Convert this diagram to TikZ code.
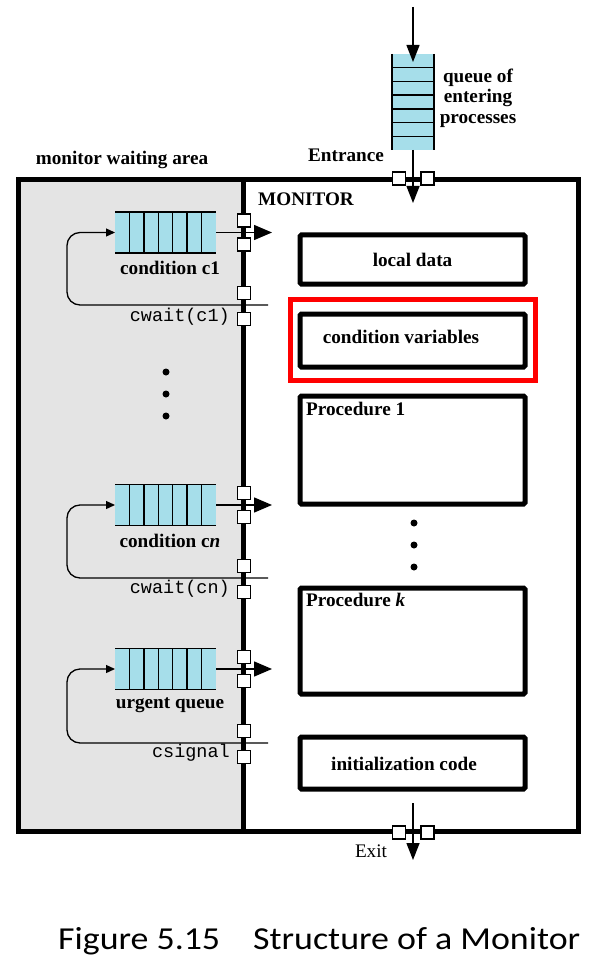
\documentclass[tikz,border=0pt]{standalone}
\usepackage{fontspec}
\usepackage{graphicx}
\setmainfont{Liberation Serif}
\setmonofont{Liberation Mono}
\newfontfamily\capfont{Carlito}
\usetikzlibrary{arrows.meta}
\definecolor{qblue}{RGB}{166,222,234}
\definecolor{waitgrey}{RGB}{228,228,228}
\tikzset{
  lbl/.style={font=\fontsize{19.2}{20.5}\selectfont\bfseries, inner sep=0pt},
  rlbl/.style={font=\fontsize{19.2}{20.5}\selectfont, inner sep=0pt},
  code/.style={font=\fontsize{18.5}{20}\selectfont\ttfamily, inner sep=0pt},
  hqueue/.style={fill=qblue, minimum width=101pt, minimum height=41pt, inner sep=0pt, outer sep=0pt},
  vqueue/.style={fill=qblue, minimum width=42pt, minimum height=96pt, inner sep=0pt, outer sep=0pt},
  sq/.style={draw=black, fill=white, line width=1.2pt, minimum width=13pt, minimum height=13pt, inner sep=0pt},
  mbox/.style={draw=black, line width=5pt, rounded corners=1.5pt, inner sep=0pt, outer sep=0pt, font=\fontsize{19.2}{20.5}\selectfont\bfseries},
  bigarrow/.style={line width=1.4pt, -{Triangle[length=18pt,width=15pt]}},
  vbigarrow/.style={line width=1.4pt, -{Triangle[length=17pt,width=13pt]}},
  smallarrow/.style={line width=1.3pt, -{Triangle[length=9pt,width=8pt]}, rounded corners=13pt},
  dotc/.style={fill=black, circle, inner sep=0pt, minimum size=7pt}
}
\begin{document}
\begin{tikzpicture}[x=1pt,y=-1pt]
\useasboundingbox (0,0) rectangle (597,965);
\fill[white] (0,0) rectangle (597,965);

% waiting area and monitor outline
\fill[waitgrey] (18,180) rectangle (243,831);
\draw[line width=5pt] (18,180) rectangle (578,831);
\draw[line width=5pt] (243,180) -- (243,831);

% labels of regions
\node[lbl] (mwa) at (122,160) {monitor waiting area};
\node[lbl, anchor=west] (mon) at (258,199) {MONITOR};

% entering queue
\node[vqueue] (vq) at (413,102) {};
\draw[line width=1.4pt] (vq.north west) -- (vq.south west) (vq.north east) -- (vq.south east);
\foreach \i in {1,...,6} {\draw[line width=1.4pt] ([yshift=-\i*96/7 pt]vq.north west) -- ([yshift=-\i*96/7 pt]vq.north east);}
\coordinate (entertop) at (413,7);
\coordinate (enterin) at (413,203);
\node[lbl, align=center] (qlabel) at (478,98) {queue of\\entering\\processes};
\node[lbl] (entr) at (346,155) {Entrance};
\node[sq] (ea) at (399,178.5) {};
\node[sq] (eb) at (427.5,178.5) {};
\draw[vbigarrow] (entertop) -- ([yshift=-8pt]vq.north);
\draw[vbigarrow] (vq.south) -- (enterin);

% exit
\node[sq] (xa) at (399,832.5) {};
\node[sq] (xb) at (427.5,832.5) {};
\coordinate (exittop) at (413,803);
\coordinate (exitbot) at (413,860);
\draw[vbigarrow] (exittop) -- (exitbot);
\node[rlbl] (exitl) at (371,851) {Exit};

% condition queues
\foreach \nm/\qy/\ly/\lab/\cl/\cly/\cw in {
   q1/232.5/305/{condition c1}/268/317/{cwait(c1)},
   q2/505/578/{condition c\textit{n}}/541/589/{cwait(cn)},
   q3/669/743/{urgent queue}/705/753/{csignal}} {
  \node[hqueue] (\nm) at (165.5,\qy) {};
  \draw[line width=1.3pt] (\nm.north west) -- (\nm.north east) (\nm.south west) -- (\nm.south east);
  \foreach \i in {1,...,6} {\draw[line width=1.3pt] ([xshift=\i*101/7 pt]\nm.north west) -- ([xshift=\i*101/7 pt]\nm.south west);}
  \node[sq] (\nm sa) at (244,\qy-12) {};
  \node[sq] (\nm sb) at (244,\qy+12) {};
  \node[sq] (\nm sc) at (244,\ly-12) {};
  \node[sq] (\nm sd) at (244,\ly+14) {};
  \coordinate (\nm out) at (272,\qy);
  \coordinate (\nm back) at (268,\ly);
  \draw[bigarrow] (\nm.east) -- (\nm out);
  \draw[smallarrow] (\nm back) -- ++(-201,0) |- (\nm.west);
  \node[lbl] (\nm lab) at (170,\cl) {\lab};
  \node[code, anchor=east] (\nm cw) at (230,\cly) {\cw};
}

% dots
\node[dotc] (ld1) at (166,372) {};
\node[dotc] (ld2) at (166,394) {};
\node[dotc] (ld3) at (166,416) {};
\node[dotc] (rd1) at (414,523) {};
\node[dotc] (rd2) at (414,545) {};
\node[dotc] (rd3) at (414,567) {};

% monitor contents
\node[mbox, minimum width=225pt, minimum height=49pt] (ld) at (412.5,259.5) {local data};
\node[mbox, minimum width=225pt, minimum height=53pt] (cv) at (412.5,340.5) {};
\node[lbl] (cvl) at (401,337) {condition variables};
\draw[red, line width=4.5pt] (290.5,299.5) rectangle (535.5,380.5);
\node[mbox, minimum width=225pt, minimum height=108pt] (p1) at (412.5,450) {};
\node[lbl, anchor=west] (p1l) at (306,409) {Procedure 1};
\node[mbox, minimum width=225pt, minimum height=106pt] (pk) at (412.5,641) {};
\node[lbl, anchor=west] (pkl) at (306,600) {Procedure \textit{k}};
\node[mbox, minimum width=225pt, minimum height=52pt] (ic) at (412.5,763) {};
\node[lbl] (icl) at (404,764) {initialization code};

% caption
\node[anchor=base west, inner sep=0pt, font=\capfont\fontsize{32}{34}\selectfont] (cap1) at (58,949) {\resizebox{162pt}{\height}{Figure 5.15}};
\node[anchor=base west, inner sep=0pt, font=\capfont\fontsize{32}{34}\selectfont] (cap2) at (253,949) {\resizebox{327pt}{\height}{Structure of a Monitor}};
\end{tikzpicture}
\end{document}
